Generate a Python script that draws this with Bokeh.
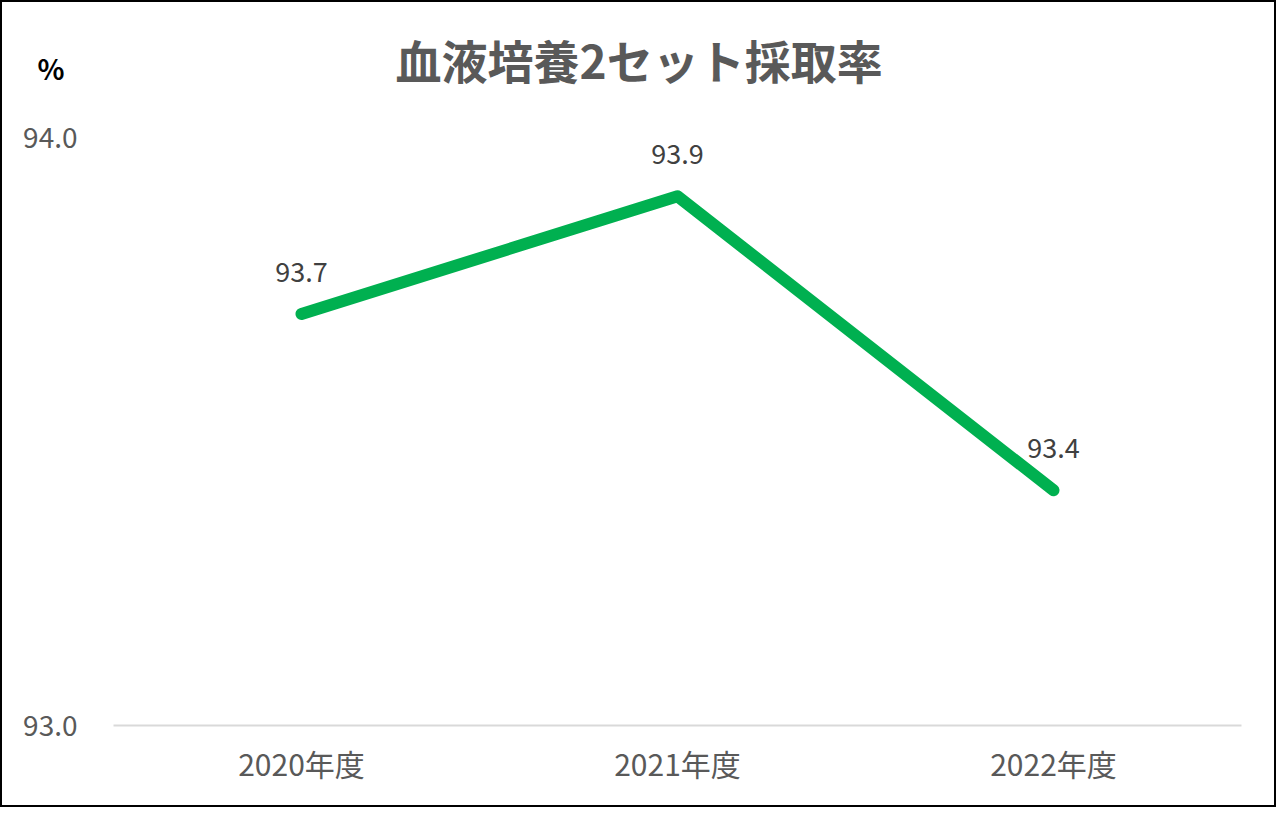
from bokeh.plotting import figure
from bokeh.models import (ColumnDataSource, LabelSet, Title,
                          FixedTicker, NumeralTickFormatter, Range1d)
from bokeh.core.properties import value
from bokeh.embed import file_html
from bokeh.resources import INLINE

# data
years = ["2020年度", "2021年度", "2022年度"]
rates = [93.7, 93.9, 93.4]
rate_labels = ["93.7", "93.9", "93.4"]
y_ticks = [93.0, 94.0]

FONT = "Noto Sans CJK JP"

source = ColumnDataSource(data=dict(year=years, rate=rates, label=rate_labels))

p = figure(x_range=years, y_range=Range1d(93.0, 94.0),
           width=1276, height=807,
           output_backend="svg", toolbar_location=None,
           min_border_left=111, min_border_right=37,
           min_border_top=135, min_border_bottom=84)
p.styles = {"border": "2px solid #000000"}

p.line(x="year", y="rate", source=source, line_color="#00B050",
       line_width=12, line_cap="round", line_join="round")

labels = LabelSet(x="year", y="rate", text="label", source=source,
                  y_offset=42, text_align="center", text_baseline="middle",
                  text_font=value(FONT), text_font_size="27px", text_color="#404040")
p.add_layout(labels)

# the header texts are titles stacked above the frame:
# an empty spacer next to the frame, then "%", then the main title on top
spacer = Title(text=" ", text_font_size="10px", standoff=52)
p.add_layout(spacer, "above")

unit = Title(text="%", align="left", offset=-76, standoff=-31,
             text_font=FONT, text_font_size="28px", text_font_style="bold",
             text_color="#000000")
p.add_layout(unit, "above")

p.title.text = "血液培養2セット採取率"
p.title.align = "left"
p.title.offset = 282
p.title.standoff = -60
p.title.text_font = FONT
p.title.text_font_size = "46px"
p.title.text_font_style = "bold"
p.title.text_color = "#595959"

# axes
p.xgrid.visible = False
p.ygrid.visible = False
p.outline_line_color = None

p.yaxis.ticker = FixedTicker(ticks=y_ticks)
p.yaxis.formatter = NumeralTickFormatter(format="0.0")
p.yaxis.axis_line_color = None
p.yaxis.major_tick_line_color = None
p.yaxis.minor_tick_line_color = None
p.yaxis.major_label_standoff = 30
p.yaxis.major_label_text_font = FONT
p.yaxis.major_label_text_font_size = "28px"
p.yaxis.major_label_text_color = "#595959"

p.xaxis.axis_line_color = "#D9D9D9"
p.xaxis.axis_line_width = 2
p.xaxis.major_tick_line_color = None
p.xaxis.minor_tick_line_color = None
p.xaxis.major_label_standoff = 9
p.xaxis.major_label_text_font = FONT
p.xaxis.major_label_text_font_size = "30px"
p.xaxis.major_label_text_color = "#595959"

open("out.html", "w").write(file_html(p, INLINE))
